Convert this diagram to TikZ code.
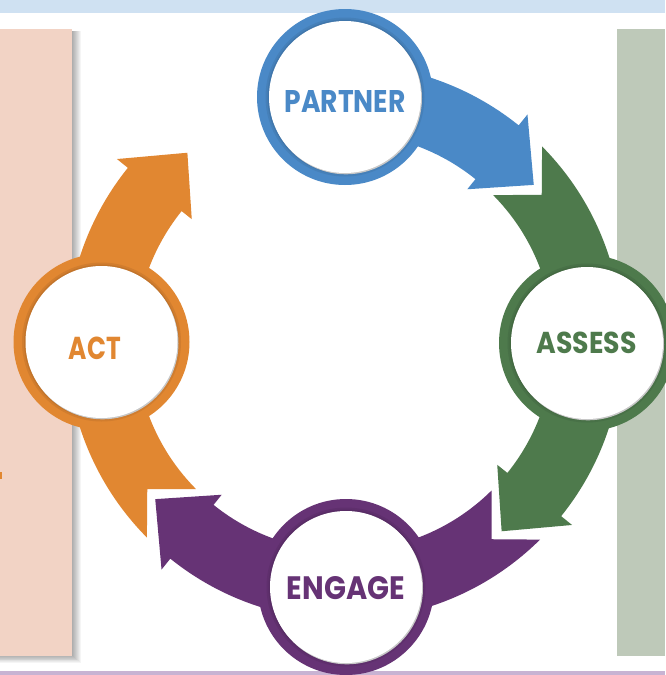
\documentclass[tikz,border=0pt]{standalone}
\usepackage{graphicx}
\usepackage{fontspec}
\newfontfamily\lblfont{Poppins}
\definecolor{cBlue}{RGB}{74,137,199}
\definecolor{cGreen}{RGB}{78,122,76}
\definecolor{cPurple}{RGB}{102,51,117}
\definecolor{cOrange}{RGB}{225,135,49}
\definecolor{topband}{RGB}{207,225,242}
\definecolor{botband}{RGB}{200,179,211}
\definecolor{leftpanel}{RGB}{242,211,197}
\definecolor{rightpanel}{RGB}{190,201,185}

% curved band arrow running clockwise round the cycle:
% #1 colour, #2 tail angle, #3 head base angle, #4 tip angle
\newcommand\cyclearrow[4]{%
  \fill[#1] (#2-8:246) -- (#2:278)
    arc[start angle=#2, end angle=#3, radius=278]
    -- (#3:292) -- (#4:246) -- (#3:196) -- (#3:209)
    arc[start angle=#3, end angle=#2, radius=209] -- cycle;
}
% stage disc: coloured ring, soft inner shade, white face
\newcommand\stagedisc[2]{%
  \fill[#2] (#1) circle (88);
  \fill[#2!93!black] (#1) circle (79.5);
  \fill[#2!86!black] (#1) circle (77.5);
  \fill[black!22] ([shift={(1,1.3)}]#1) circle (76);
  \fill[white] (#1) circle (76);
}

\begin{document}
\begin{tikzpicture}[x=1pt,y=-1pt,
  lbl/.style={font=\lblfont\bfseries, inner sep=0pt, anchor=center}]
\useasboundingbox (0,0) rectangle (665,675);
\fill[white] (0,0) rectangle (665,675);

% page bands and side panels
\fill[topband] (0,0) rectangle (665,13);
\fill[botband] (0,670.5) rectangle (665,675);
\fill[rightpanel] (617,29) rectangle (665,655.5);
\foreach \k in {1,...,9}
  \fill[black, opacity=0.04] (0,31) rectangle (72+\k,655.5+0.8*\k);
\fill[leftpanel] (0,29) rectangle (72,655.5);
\fill[cOrange] (0,472) rectangle (1.5,479);

% stage centres
\coordinate (hub) at (344.5,342);
\coordinate (partner) at (345,97);
\coordinate (assess) at (587,343);
\coordinate (engage) at (346,587);
\coordinate (act) at (101.5,342);

% arrows of the cycle
\begin{scope}[shift={(hub)}, yscale=-1]
  \cyclearrow{cBlue}{95}{51.2}{39.7}
  \cyclearrow{cGreen}{44.7}{-38.8}{-50.3}
  \cyclearrow{cPurple}{-45.3}{-128.8}{-140.3}
  \cyclearrow{cOrange}{224.7}{141.2}{129.7}
\end{scope}

% stage discs
\stagedisc{partner}{cBlue}
\stagedisc{assess}{cGreen}
\stagedisc{engage}{cPurple}
\stagedisc{act}{cOrange}

% stage labels
\node[lbl, text=cBlue] (partnerlbl) at (345,101) {\resizebox{121pt}{22pt}{PARTNER}};
\node[lbl, text=cGreen] (assesslbl) at (586.7,342.5) {\resizebox{100pt}{21.5pt}{ASSESS}};
\node[lbl, text=cPurple] (engagelbl) at (346,588) {\resizebox{118pt}{23pt}{ENGAGE}};
\node[lbl, text=cOrange] (actlbl) at (95,348.5) {\resizebox{52pt}{22.5pt}{ACT}};
\end{tikzpicture}
\end{document}
